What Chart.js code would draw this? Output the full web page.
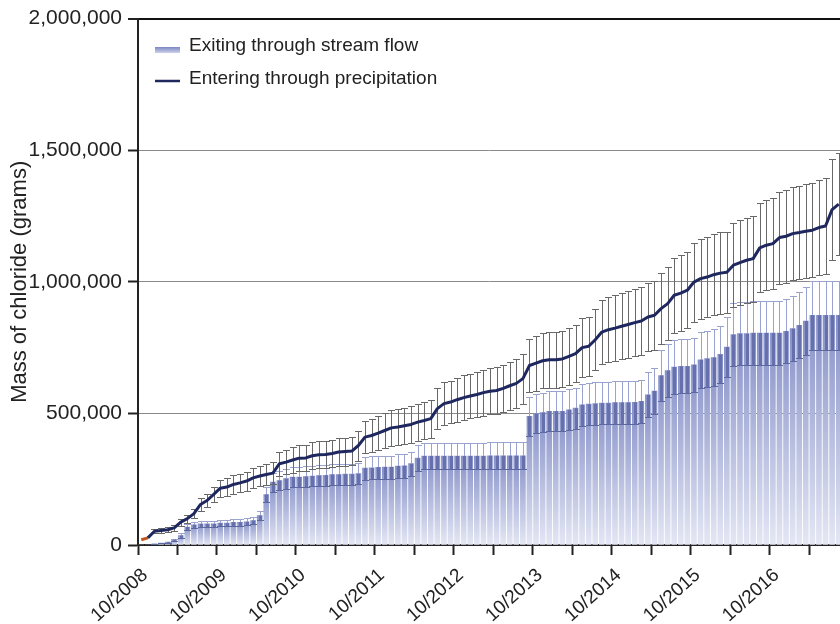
<!DOCTYPE html>
<html>
<head>
<meta charset="utf-8">
<title>Chloride mass balance</title>
<script src="https://cdn.jsdelivr.net/npm/chart.js@4.4.1/dist/chart.umd.min.js"></script>
<style>
  body { margin: 0; background: #fff; }
  #wrap { width: 840px; height: 624px; }
</style>
</head>
<body>
<div id="wrap"><canvas id="chart" width="840" height="624"></canvas></div>
<script>
// Cumulative monthly chloride mass (grams), first month = 10/2008
const yearLabels = ['10/2008', '10/2009', '10/2010', '10/2011', '10/2012',
  '10/2013', '10/2014', '10/2015', '10/2016'];

const precipitation = [
  20000, 27000, 52000, 55000, 58000, 65000, 87000, 100000, 119000, 154000, 169000, 192000,
  216000, 220000, 230000, 236000, 243000, 255000, 262000, 268000, 273000, 309000, 315000, 323000,
  330000, 331000, 339000, 343000, 344000, 348000, 353000, 355000, 357000, 378000, 410000, 416000,
  425000, 435000, 445000, 448000, 453000, 458000, 467000, 473000, 480000, 518000, 537000, 543000,
  552000, 560000, 566000, 572000, 579000, 584000, 587000, 595000, 605000, 614000, 632000, 682000,
  691000, 700000, 704000, 704000, 707000, 717000, 727000, 750000, 755000, 780000, 809000, 818000,
  824000, 831000, 838000, 845000, 851000, 866000, 873000, 898000, 917000, 949000, 957000, 968000,
  999000, 1012000, 1018000, 1027000, 1033000, 1036000, 1063000, 1073000, 1082000, 1088000, 1129000, 1139000,
  1145000, 1168000, 1173000, 1183000, 1187000, 1192000, 1196000, 1206000, 1212000, 1274000, 1295000
];
const precipError = [
  0, 0, 8000, 8000, 9000, 10000, 13000, 15000, 18000, 23000, 25000, 29000,
  32000, 33000, 35000, 35000, 36000, 38000, 39000, 40000, 41000, 46000, 47000, 48000,
  50000, 50000, 51000, 51000, 52000, 52000, 53000, 53000, 54000, 57000, 62000, 62000,
  64000, 65000, 67000, 67000, 68000, 69000, 70000, 71000, 72000, 78000, 81000, 81000,
  83000, 84000, 85000, 86000, 87000, 88000, 88000, 89000, 91000, 92000, 95000, 102000,
  104000, 105000, 106000, 106000, 106000, 108000, 109000, 112000, 113000, 117000, 121000, 123000,
  124000, 125000, 126000, 127000, 128000, 130000, 131000, 135000, 138000, 142000, 144000, 145000,
  150000, 152000, 153000, 154000, 155000, 155000, 159000, 161000, 162000, 163000, 169000, 171000,
  172000, 175000, 176000, 177000, 178000, 179000, 179000, 181000, 182000, 191000, 194000
];

const streamFlow = [
  0, 0, 4000, 7000, 11000, 20000, 36000, 68000, 77000, 80000, 80000, 80000,
  83000, 83000, 86000, 86000, 88000, 93000, 112000, 192000, 239000, 245000, 252000, 258000,
  258000, 260000, 262000, 264000, 265000, 268000, 268000, 269000, 269000, 271000, 292000, 293000,
  295000, 296000, 296000, 300000, 301000, 309000, 330000, 338000, 338000, 338000, 338000, 338000,
  338000, 338000, 338000, 338000, 338000, 339000, 339000, 339000, 339000, 339000, 339000, 489000,
  499000, 503000, 508000, 508000, 508000, 514000, 520000, 533000, 535000, 537000, 539000, 539000,
  541000, 541000, 541000, 542000, 546000, 571000, 585000, 644000, 663000, 676000, 679000, 679000,
  685000, 704000, 708000, 712000, 724000, 752000, 799000, 803000, 803000, 805000, 805000, 805000,
  805000, 805000, 812000, 822000, 835000, 851000, 873000, 873000, 873000, 873000, 873000
];
const streamError = [
  0, 0, 1000, 1000, 2000, 3000, 8000, 10000, 11000, 12000, 12000, 12000,
  12000, 12000, 13000, 13000, 13000, 14000, 17000, 28000, 36000, 37000, 38000, 39000,
  39000, 39000, 39000, 40000, 40000, 40000, 40000, 40000, 40000, 41000, 44000, 44000,
  44000, 44000, 44000, 45000, 45000, 46000, 50000, 51000, 51000, 51000, 51000, 51000,
  51000, 51000, 51000, 51000, 51000, 51000, 51000, 51000, 51000, 51000, 51000, 73000,
  75000, 75000, 76000, 76000, 76000, 77000, 78000, 80000, 80000, 81000, 81000, 81000,
  81000, 81000, 81000, 81000, 82000, 86000, 88000, 97000, 99000, 101000, 102000, 102000,
  103000, 106000, 106000, 107000, 109000, 113000, 120000, 120000, 120000, 121000, 121000, 121000,
  121000, 121000, 122000, 123000, 125000, 128000, 131000, 131000, 131000, 131000, 131000
];

const FONT = "'Liberation Sans', Arial, Helvetica, sans-serif";
const NAVY = '#1e275e';

// month index -> centre of that month on the x scale
const toPoints = arr => arr.map((v, i) => ({ x: i + 0.5, y: v }));

function barFill(c) {
  const chart = c.chart;
  const y = chart.scales.y;
  if (!chart.chartArea || c.type !== 'data' || !y) return '#b4bbe0';
  const top = y.getPixelForValue(c.raw.y);
  const base = y.getPixelForValue(0);
  if (!(base - top > 0.5)) return '#c5cae8';
  const g = chart.ctx.createLinearGradient(0, top, 0, base);
  g.addColorStop(0, '#8690c8');
  g.addColorStop(1, '#e4e7f4');
  return g;
}

function whisker(ctx, x, y1, y2) {
  ctx.beginPath();
  ctx.moveTo(x, y1);
  ctx.lineTo(x, y2);
  ctx.stroke();
}
function cap(ctx, x, y, w) {
  ctx.beginPath();
  ctx.moveTo(x - w / 2, y);
  ctx.lineTo(x + w / 2, y);
  ctx.stroke();
}

// error bars go on after the bars and before the precipitation line
const errorBars = {
  id: 'errorBars',
  afterDatasetDraw(chart, args) {
    if (args.index !== 1) return;
    const { ctx, chartArea: a, scales: { x, y } } = chart;
    ctx.save();
    ctx.beginPath();
    ctx.rect(a.left, a.top, a.right - a.left, a.bottom - a.top);
    ctx.clip();

    streamFlow.forEach((v, i) => {
      const e = streamError[i];
      if (!e) return;
      const px = Math.round(x.getPixelForValue(i + 0.5)) + 0.5;
      const hi = Math.round(y.getPixelForValue(v + e)) + 0.5;
      const mid = y.getPixelForValue(v);
      const lo = Math.round(y.getPixelForValue(Math.max(v - e, 0))) + 0.5;
      ctx.strokeStyle = '#9aa2cf';
      ctx.lineWidth = 1;
      whisker(ctx, px, hi, mid);
      cap(ctx, px, hi, 7);
      ctx.strokeStyle = '#6570ad';
      ctx.lineWidth = 3;
      whisker(ctx, px, mid, lo);
      ctx.lineWidth = 1;
      ctx.strokeStyle = '#5d679f';
      cap(ctx, px, lo, 7);
    });

    ctx.strokeStyle = '#686868';
    ctx.lineWidth = 1;
    precipitation.forEach((v, i) => {
      const e = precipError[i];
      if (!e) return;
      const px = Math.round(x.getPixelForValue(i + 0.5)) + 0.5;
      const hi = Math.round(y.getPixelForValue(v + e)) + 0.5;
      const lo = Math.round(y.getPixelForValue(v - e)) + 0.5;
      whisker(ctx, px, hi, lo);
      cap(ctx, px, hi, 7);
      cap(ctx, px, lo, 7);
    });
    ctx.restore();
  }
};

const legendBox = {
  id: 'legendBox',
  afterDraw(chart) {
    const ctx = chart.ctx;
    ctx.save();
    const g = ctx.createLinearGradient(0, 47, 0, 53);
    g.addColorStop(0, '#7c86c0');
    g.addColorStop(1, '#cdd2ec');
    ctx.fillStyle = g;
    ctx.fillRect(155, 47, 25, 6);
    ctx.strokeStyle = NAVY;
    ctx.lineWidth = 2.5;
    ctx.beginPath();
    ctx.moveTo(155, 81);
    ctx.lineTo(180, 81);
    ctx.stroke();
    ctx.fillStyle = '#222';
    ctx.font = '19px ' + FONT;
    ctx.textBaseline = 'middle';
    ctx.fillText('Exiting through stream flow', 189, 46);
    ctx.fillText('Entering through precipitation', 189, 79);
    ctx.restore();
  }
};

Chart.defaults.font.family = FONT;
Chart.defaults.color = '#222';

new Chart(document.getElementById('chart'), {
  type: 'bar',
  data: {
    datasets: [
      {
        type: 'line',
        label: 'Entering through precipitation',
        data: toPoints(precipitation),
        borderColor: NAVY,
        borderWidth: 3,
        pointRadius: 0,
        tension: 0,
        borderJoinStyle: 'round',
        segment: {
          borderColor: s => (s.p0DataIndex === 0 ? '#c0561e' : undefined)
        },
        order: 0
      },
      {
        type: 'bar',
        label: 'Exiting through stream flow',
        data: toPoints(streamFlow),
        backgroundColor: barFill,
        borderWidth: 0,
        barThickness: 5,
        order: 1
      }
    ]
  },
  options: {
    responsive: false,
    animation: false,
    layout: { padding: { top: 18, right: 0, bottom: 0, left: 0 } },
    plugins: {
      legend: { display: false },
      tooltip: { enabled: false }
    },
    scales: {
      x: {
        type: 'linear',
        min: 0,
        max: 106.7,
        offset: false,
        grid: {
          offset: false,
          drawOnChartArea: false,
          tickLength: 10,
          tickColor: '#222',
          tickWidth: 2
        },
        border: { color: '#222', width: 2 },
        afterBuildTicks: scale => {
          const ticks = [];
          for (let m = 0; m <= scale.max; m += 6) ticks.push({ value: m });
          scale.ticks = ticks;
        },
        afterFit: scale => { scale.height = 79; },
        ticks: {
          autoSkip: false,
          minRotation: 42,
          maxRotation: 42,
          padding: 9,
          labelOffset: 7,
          font: { size: 19 },
          callback: v => (v % 12 === 0 ? yearLabels[v / 12] : '')
        }
      },
      y: {
        min: 0,
        max: 2000000,
        afterFit: scale => { scale.width = 138; },
        grid: {
          color: c => (c.tick.value === 2000000 ? '#111' : c.tick.value === 0 ? 'rgba(0,0,0,0)' : '#8a8a8a'),
          lineWidth: c => (c.tick.value === 2000000 ? 2 : 1),
          tickLength: 10,
          tickColor: '#222',
          tickWidth: 2
        },
        border: { color: '#222', width: 2 },
        ticks: {
          stepSize: 500000,
          padding: 6,
          font: { size: 21 },
          callback: v => v.toLocaleString('en-US')
        },
        title: {
          display: true,
          text: 'Mass of chloride (grams)',
          font: { size: 22 },
          padding: { top: 7, bottom: 0 }
        }
      }
    }
  },
  plugins: [errorBars, legendBox]
});
</script>
</body>
</html>
